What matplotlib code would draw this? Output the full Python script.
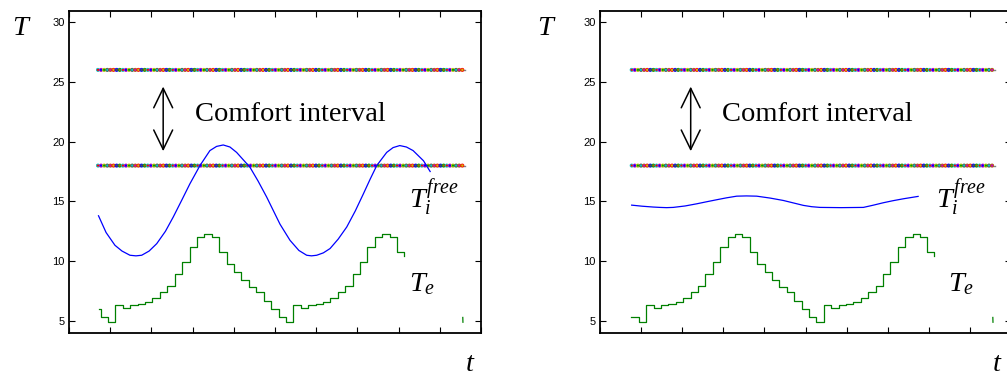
import numpy as np
import matplotlib
matplotlib.use("Agg")
import matplotlib.pyplot as plt
from matplotlib.ticker import MultipleLocator

plt.rcParams['mathtext.fontset'] = 'custom'
plt.rcParams['mathtext.rm'] = 'Liberation Serif'
plt.rcParams['mathtext.it'] = 'Liberation Serif:italic'

# ---------------- data (time in hours) ----------------
comfort_low = 18.0
comfort_high = 26.0
comfort_range_left = (3.9, 53.4)
comfort_range_right = (4.28, 53.4)

# outdoor temperature Te, hourly steps (hour 3 .. 44)
te_values = [6.0, 5.3, 4.9, 6.3, 6.05, 6.3, 6.4, 6.6, 6.95, 7.4, 7.95, 8.97,
             9.9, 11.2, 12.0, 12.3, 12.0, 10.8, 9.75, 9.1, 8.4, 7.85, 7.4,
             6.65, 6.0, 5.35, 4.9, 6.3, 6.05, 6.3, 6.4, 6.6, 6.95, 7.4, 7.95,
             8.97, 9.9, 11.2, 12.0, 12.3, 12.0, 10.8]
te_step_times = [4.05] + [h + 0.25 for h in range(4, 45)]
te_end_time = 45.2
te_end_value = 10.4
te_tail_t = [53.1, 53.12]
te_tail_v = [5.3, 4.9]

# free-running indoor temperature, left (no insulation)
tif_left_t = [3.98, 5.0, 6.2, 7.15, 8.22, 9.03, 9.8, 10.8, 11.83, 13.0, 14.06,
              15.2, 16.3, 17.66, 19.0, 19.9, 20.8, 21.7, 22.6, 24.4, 25.5,
              26.66, 28.45, 29.8, 31.0, 32.05, 32.7, 33.4, 34.3, 35.2, 36.3,
              37.45, 38.6, 39.7, 40.6, 41.5, 42.84, 43.7, 44.6, 45.5, 46.4,
              47.8, 48.7]
tif_left_v = [13.8, 12.4, 11.33, 10.85, 10.5, 10.45, 10.5, 10.85, 11.47, 12.5,
              13.7, 15.1, 16.47, 18.0, 19.25, 19.6, 19.72, 19.55, 19.1, 17.86,
              16.7, 15.36, 13.1, 11.75, 10.9, 10.5, 10.45, 10.5, 10.7, 11.06,
              11.85, 12.86, 14.2, 15.64, 16.85, 18.0, 19.1, 19.5, 19.67, 19.55,
              19.25, 18.4, 17.5]

# free-running indoor temperature, right (insulated)
tif_right_t = [4.28, 5.7, 7.2, 8.1, 9.0, 9.9, 11.5, 13.07, 14.4, 15.77, 17.1,
               18.48, 19.8, 21.18, 23.0, 24.78, 26.1, 27.48, 28.6, 29.74, 32.6,
               35.6, 36.9, 38.3, 39.6, 41.0, 43.0]
tif_right_v = [14.69, 14.6, 14.53, 14.5, 14.48, 14.5, 14.62, 14.8, 14.97, 15.14,
               15.3, 15.44, 15.46, 15.44, 15.28, 15.08, 14.88, 14.67, 14.56,
               14.5, 14.48, 14.5, 14.68, 14.89, 15.06, 15.22, 15.42]

y_ticks = [5, 10, 15, 20, 25, 30]
x_max_hours = 200000 / 3600.0
x_tick_step = 20000 / 3600.0

marker_colors = ['#ff0000', '#0000ff', '#00a000', '#00c8c8', '#c800c8',
                 '#c8c800', '#505050', '#b06000']

W, H = 1007, 376
fig = plt.figure(figsize=(W / 100, H / 100), dpi=100)

serif = 'Liberation Serif'


def comfort_line(ax, rng, yval):
    ts = np.arange(rng[0], rng[1] + 1e-9, 0.42)
    ax.plot([rng[0], rng[1]], [yval, yval], color='#808080', lw=1.0, zorder=2)
    n = len(ts)
    fc = [marker_colors[i % len(marker_colors)] for i in range(n)]
    ec = [marker_colors[(i + 3) % len(marker_colors)] for i in range(n)]
    ax.scatter(ts, [yval] * n, s=5, marker='o', facecolors=fc, edgecolors=ec,
               linewidths=0.6, zorder=3)


def setup(ax):
    ax.set_xlim(0, x_max_hours)
    ax.set_ylim(4.0, 30.92)
    ax.set_yticks(y_ticks)
    ax.xaxis.set_major_locator(MultipleLocator(x_tick_step))
    ax.tick_params(axis='both', direction='in', length=4, width=0.8,
                   top=True, right=True, labelsize=8, pad=3)
    ax.tick_params(axis='x', labelbottom=False)
    for lab in ax.get_yticklabels():
        lab.set_fontfamily('Liberation Sans')
    for s in ax.spines.values():
        s.set_linewidth(1.3)


def panel(ax, tif_t, tif_v, te_t, te_v, comfort_rng, arrow_x, text_x,
          tif_label_x, te_label_x):
    setup(ax)
    comfort_line(ax, comfort_rng, comfort_high)
    comfort_line(ax, comfort_rng, comfort_low)
    ax.plot(tif_t, tif_v, color='#0000ff', lw=0.9, zorder=4)
    ax.plot(list(te_t) + [te_end_time, te_end_time],
            list(te_v) + [te_v[-1], te_end_value],
            color='#008000', lw=0.9, drawstyle='steps-post', zorder=4)
    ax.plot(te_tail_t, te_tail_v, color='#008000', lw=0.9, zorder=4)
    ax.annotate('', xy=(arrow_x, 19.2), xytext=(arrow_x, 24.6),
                arrowprops=dict(arrowstyle='<->,head_length=0.7,head_width=0.34',
                                mutation_scale=20, lw=1.1, color='black',
                                shrinkA=0, shrinkB=0))
    ax.text(text_x, 21.75, 'Comfort interval', fontsize=20.5,
            fontfamily=serif, va='baseline', ha='left')
    ax.text(tif_label_x, 14.5, r'$T_i^{free}$', fontsize=20.5,
            va='baseline', ha='left')
    ax.text(te_label_x, 7.5, r'$T_e$', fontsize=20.5, va='baseline', ha='left')


ax1 = fig.add_axes([69 / W, 43 / H, 412 / W, 322 / H])
panel(ax1, tif_left_t, tif_left_v, te_step_times, te_values,
      comfort_range_left, 12.7, 17.0, 45.9, 45.9)

ax2 = fig.add_axes([600 / W, 43 / H, 411 / W, 322 / H])
panel(ax2, tif_right_t, tif_right_v, te_step_times[1:], te_values[1:],
      comfort_range_right, 12.26, 16.45, 45.4, 47.1)

# axis symbols
fig.text(12 / W, 1 - 35 / H, 'T', fontsize=20.5, fontfamily=serif,
         fontstyle='italic', ha='left', va='baseline')
fig.text(537 / W, 1 - 35 / H, 'T', fontsize=20.5, fontfamily=serif,
         fontstyle='italic', ha='left', va='baseline')
fig.text(466 / W, 1 - 371 / H, 't', fontsize=20.5, fontfamily=serif,
         fontstyle='italic', ha='left', va='baseline')
fig.text(993 / W, 1 - 371 / H, 't', fontsize=20.5, fontfamily=serif,
         fontstyle='italic', ha='left', va='baseline')

fig.savefig('out.png', dpi=100)
